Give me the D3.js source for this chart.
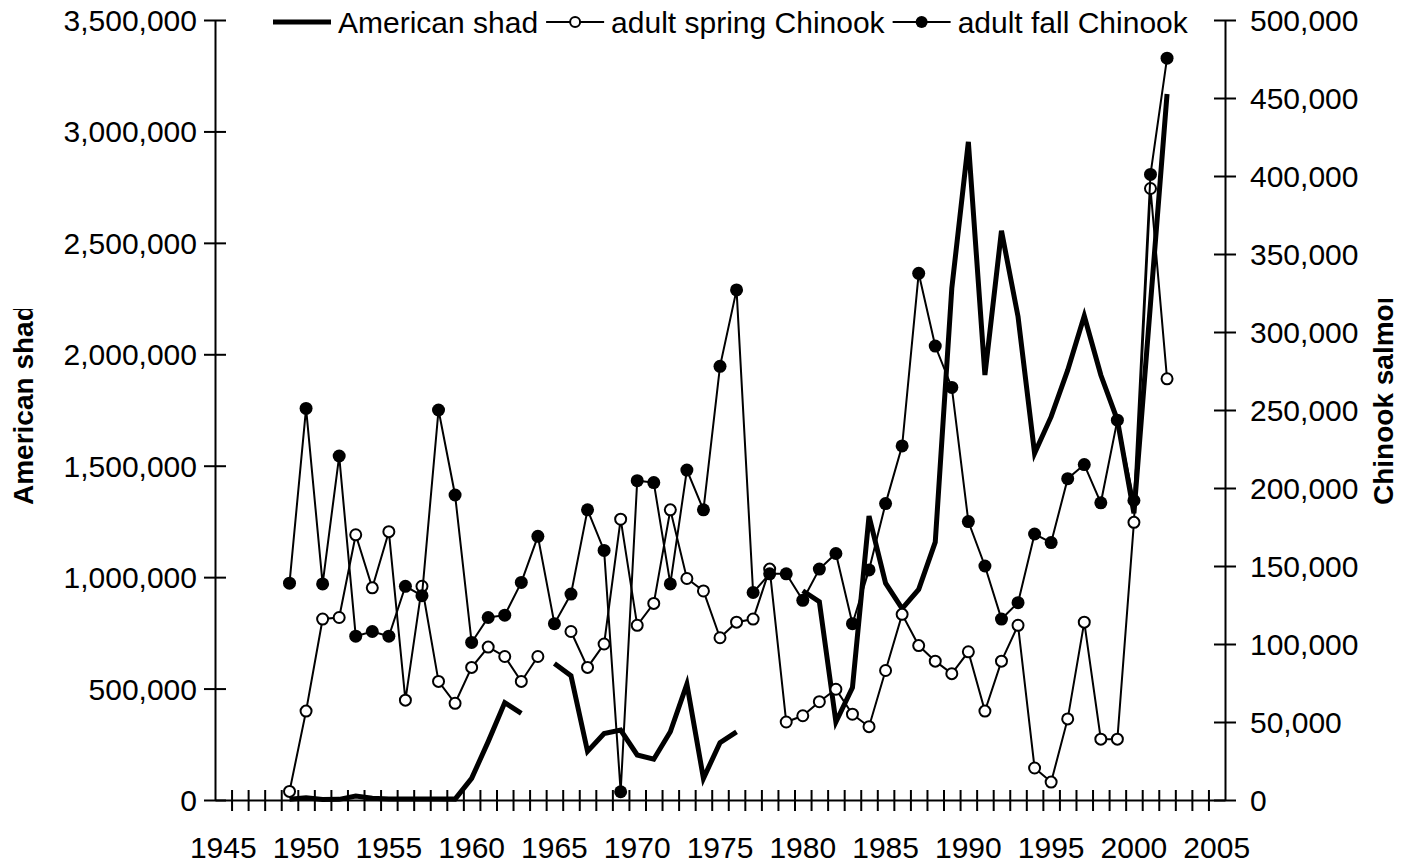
<!DOCTYPE html>
<html><head><meta charset="utf-8">
<script src="https://cdn.jsdelivr.net/npm/d3@7"></script>
<style>
body{margin:0;background:#fff}
svg{display:block;background:#fff}
text{font-family:"Liberation Sans",Arial,sans-serif;fill:#000}
</style>
</head><body>
<svg id="c" width="1401" height="865"></svg>
<script>
// ---------------- data ----------------
const years = [1949,1950,1951,1952,1953,1954,1955,1956,1957,1958,1959,1960,1961,1962,1963,1964,1965,1966,1967,1968,1969,1970,1971,1972,1973,1974,1975,1976,1977,1978,1979,1980,1981,1982,1983,1984,1985,1986,1987,1988,1989,1990,1991,1992,1993,1994,1995,1996,1997,1998,1999,2000,2001,2002];
const shad = [3000,10000,2000,3000,18000,8000,5000,5000,5000,5000,4000,97000,262000,437000,389000,null,613000,558000,218000,298000,314000,202000,183000,306000,520000,97000,257000,306000,null,null,null,939000,890000,350000,505000,1274000,973000,859000,945000,1157000,2296000,2953000,1907000,2554000,2169000,1556000,1720000,1929000,2172000,1907000,1705000,1286000,2227000,3168000];
const springChinook = [5500,57000,116000,117000,170000,136000,172000,64000,137000,76000,62000,85000,98000,92000,76000,92000,null,108000,85000,100000,180000,112000,126000,186000,142000,134000,104000,114000,116000,148000,50000,54000,63000,71000,55000,47000,83000,119000,99000,89000,81000,95000,57000,89000,112000,20500,11500,52000,114000,39000,39000,178000,392000,270000];
const fallChinook = [139000,251000,138500,220500,105000,108000,105000,137000,131000,250000,195500,101000,117000,118500,139500,169000,113000,132000,186000,160000,5300,204700,203500,138500,211500,186000,278000,327000,133000,145000,145000,128000,148000,158000,113000,147500,190000,227000,337600,291000,264500,178500,150000,116000,126500,170500,165000,206000,215000,190500,243500,192000,401000,475500];

const axisCategories = d3.range(1945, 2006);
const xTickLabels = [1945,1950,1955,1960,1965,1970,1975,1980,1985,1990,1995,2000,2005];
const leftTicks = [0,500000,1000000,1500000,2000000,2500000,3000000,3500000];
const rightTicks = [0,50000,100000,150000,200000,250000,300000,350000,400000,450000,500000];
const seriesNames = ["American shad","adult spring Chinook","adult fall Chinook"];
const leftTitle = "American shad";
const rightTitle = "Chinook salmon";

// ---------------- layout ----------------
const W = 1401, H = 865;
const L = 215, R = 1225, T = 20, B = 800;
const FS = 30;
const svg = d3.select("#c");

const x = d3.scaleBand().domain(axisCategories).range([L, R]).paddingInner(0).paddingOuter(0);
const xb = d3.scaleLinear().domain([1945, 2006]).range([L, R]);
const yL = d3.scaleLinear().domain([0, 3500000]).range([B, T]);
const yR = d3.scaleLinear().domain([0, 500000]).range([B, T]);
const cx = yr => x(yr) + x.bandwidth() / 2;

const fmt = d3.format(",");

// ---------------- axes ----------------
function styleAxis(g) {
  g.selectAll("path.domain").attr("stroke", "#000").attr("stroke-width", 2);
  g.selectAll(".tick line").attr("stroke", "#000").attr("stroke-width", 2);
  g.selectAll(".tick text").style("font-size", FS + "px").attr("fill", "#000");
}

// left axis
const gL = svg.append("g").attr("transform", `translate(${L},0)`)
  .call(d3.axisLeft(yL).tickValues(leftTicks).tickFormat(fmt).tickSizeInner(11).tickSizeOuter(0).tickPadding(7));
gL.selectAll(".tick line").attr("x1", 11).attr("x2", -11);
gL.selectAll(".tick text").attr("dy", "0.35em");
styleAxis(gL);

// right axis
const gR = svg.append("g").attr("transform", `translate(${R},0)`)
  .call(d3.axisRight(yR).tickValues(rightTicks).tickFormat(fmt).tickSizeInner(11).tickSizeOuter(0).tickPadding(14));
gR.selectAll(".tick line").attr("x1", -11).attr("x2", 11);
gR.selectAll(".tick text").attr("dy", "0.35em");
styleAxis(gR);

// bottom axis: boundary ticks
const gB = svg.append("g").attr("transform", `translate(0,${B})`)
  .call(d3.axisBottom(xb).tickValues(d3.range(1946, 2006)).tickFormat("").tickSizeInner(11).tickSizeOuter(0));
gB.selectAll(".tick line").attr("y1", -10).attr("y2", 11);
styleAxis(gB);

// bottom labels
const gBL = svg.append("g").attr("transform", `translate(0,${B})`)
  .call(d3.axisBottom(x).tickValues(xTickLabels).tickSize(0).tickPadding(0));
gBL.select("path.domain").remove();
gBL.selectAll(".tick text").attr("y", 58).attr("dy", 0).style("font-size", FS + "px");

// ---------------- axis titles (clipped as in the original) ----------------
const defs = svg.append("defs");
defs.append("clipPath").attr("id", "clipL").append("rect").attr("x", 0).attr("y", 309).attr("width", 60).attr("height", 300);
defs.append("clipPath").attr("id", "clipR").append("rect").attr("x", 1340).attr("y", 299).attr("width", 61).attr("height", 300);

svg.append("g").attr("clip-path", "url(#clipL)")
  .append("text").attr("transform", "translate(33,505) rotate(-90)")
  .attr("text-anchor", "start").style("font-size", "28px").style("font-weight", "bold").text(leftTitle);
svg.append("g").attr("clip-path", "url(#clipR)")
  .append("text").attr("transform", "translate(1393,505) rotate(-90)")
  .attr("text-anchor", "start").style("font-size", "28px").style("font-weight", "bold").text(rightTitle);

// ---------------- series ----------------
const shadData = years.map((yr, i) => ({yr, v: shad[i]}));
const springData = years.map((yr, i) => ({yr, v: springChinook[i]}));
const fallData = years.map((yr, i) => ({yr, v: fallChinook[i]}));

const lineL = d3.line().defined(d => d.v != null).x(d => cx(d.yr)).y(d => yL(d.v));
const lineR = d3.line().defined(d => d.v != null).x(d => cx(d.yr)).y(d => yR(d.v));

svg.append("path").datum(shadData).attr("d", lineL)
  .attr("fill", "none").attr("stroke", "#000").attr("stroke-width", 5).attr("stroke-linejoin", "miter");

svg.append("path").datum(springData).attr("d", lineR)
  .attr("fill", "none").attr("stroke", "#000").attr("stroke-width", 2);
svg.append("g").selectAll("circle").data(springData.filter(d => d.v != null)).join("circle")
  .attr("cx", d => cx(d.yr)).attr("cy", d => yR(d.v)).attr("r", 5.5)
  .attr("fill", "#fff").attr("stroke", "#000").attr("stroke-width", 2);

svg.append("path").datum(fallData).attr("d", lineR)
  .attr("fill", "none").attr("stroke", "#000").attr("stroke-width", 2);
svg.append("g").selectAll("circle").data(fallData.filter(d => d.v != null)).join("circle")
  .attr("cx", d => cx(d.yr)).attr("cy", d => yR(d.v)).attr("r", 6.5)
  .attr("fill", "#000");

// ---------------- legend ----------------
const lg = svg.append("g");
let lx = 273;
const ly = 22, lineLen = 58;
seriesNames.forEach((name, i) => {
  lg.append("line").attr("x1", lx).attr("x2", lx + lineLen).attr("y1", ly).attr("y2", ly)
    .attr("stroke", "#000").attr("stroke-width", i === 0 ? 5 : 2);
  if (i === 1) lg.append("circle").attr("cx", lx + lineLen / 2).attr("cy", ly).attr("r", 5)
    .attr("fill", "#fff").attr("stroke", "#000").attr("stroke-width", 2);
  if (i === 2) lg.append("circle").attr("cx", lx + lineLen / 2).attr("cy", ly).attr("r", 6)
    .attr("fill", "#000");
  const t = lg.append("text").attr("x", lx + lineLen + 7).attr("y", ly + 11)
    .style("font-size", FS + "px").text(name);
  lx = lx + lineLen + 7 + t.node().getComputedTextLength() + 8;
});
</script>
</body></html>
